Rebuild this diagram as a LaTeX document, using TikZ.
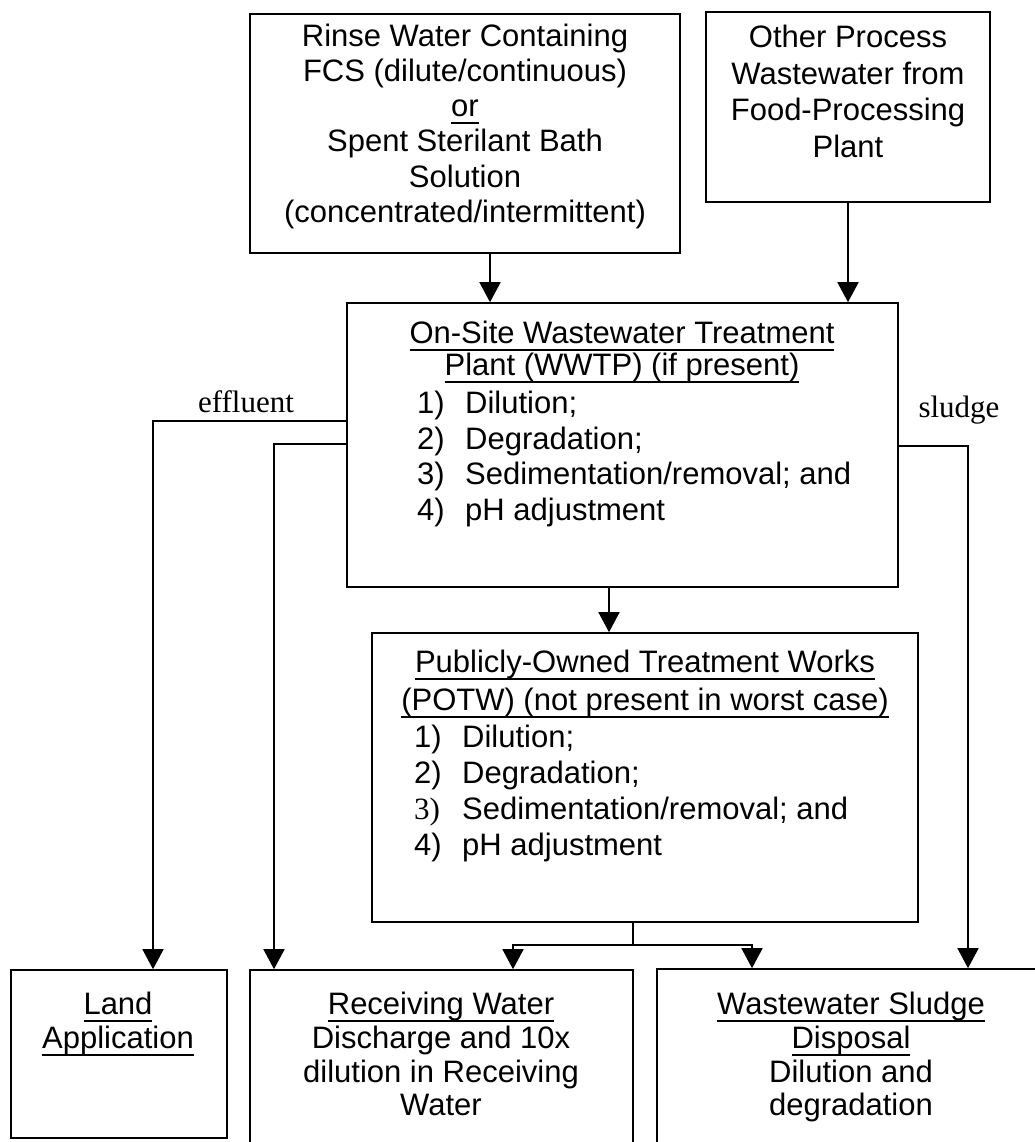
\documentclass[tikz,border=0pt]{standalone}
\usepackage{fontspec}
\setmainfont{Liberation Sans}
\newfontfamily\lserif{Liberation Serif}
\usetikzlibrary{arrows.meta}
\newsavebox\ulbox
\newcommand\myul[1]{\sbox\ulbox{#1}\rlap{\rule[-7.5pt]{\wd\ulbox}{2pt}}\usebox\ulbox}
\begin{document}
\begin{tikzpicture}[x=1pt,y=-1pt,
  box/.style={draw, line width=1.6pt, inner sep=0pt},
  txt/.style={inner sep=0pt, anchor=base, font=\fontsize{31}{35}\selectfont},
  itm/.style={inner sep=0pt, anchor=base west, font=\fontsize{31}{35}\selectfont},
  lab/.style={inner sep=0pt, anchor=base, font=\lserif\fontsize{31}{35}\selectfont},
  arr/.style={line width=1.6pt, -{Triangle[width=21pt,length=20pt]}},
  ln/.style={line width=1.6pt}]
\useasboundingbox (0,0) rectangle (1035,1142);
\clip (0,0) rectangle (1035,1142);
\fill[white] (0,0) rectangle (1035,1142);

% boxes
\node[box, minimum width=430pt, minimum height=239pt] (rinse) at (465,133.5) {};
\node[box, minimum width=284pt, minimum height=190pt] (other) at (848,107) {};
\node[box, minimum width=551pt, minimum height=284pt] (wwtp) at (622.5,445) {};
\node[box, minimum width=546pt, minimum height=289pt] (potw) at (645,777.5) {};
\node[box, minimum width=216pt, minimum height=168pt] (land) at (119,1054) {};
\node[box, minimum width=383pt, minimum height=200pt] (recv) at (441.5,1070) {};
\node[box, minimum width=393pt, minimum height=201pt] (sludge) at (853.5,1069.5) {};

% rinse text
\node[txt] (r1) at (465,47) {Rinse Water Containing};
\node[txt] (r2) at (465,82) {FCS (dilute/continuous)};
\node[txt] (r3) at (465,117) {\myul{or}};
\node[txt] (r4) at (465,152) {Spent Sterilant Bath};
\node[txt] (r5) at (465,187) {Solution};
\node[txt] (r6) at (465,222) {(concentrated/intermittent)};

% other text
\node[txt] (o1) at (848,48) {Other Process};
\node[txt] (o2) at (848,85) {Wastewater from};
\node[txt] (o3) at (848,121) {Food-Processing};
\node[txt] (o4) at (848,158) {Plant};

% wwtp text
\node[txt] (w1) at (622,343) {\myul{On-Site Wastewater Treatment}};
\node[txt] (w2) at (622,375) {\myul{Plant (WWTP) (if present)}};
\node[itm] (w3) at (417,413) {\makebox[48pt][l]{1)}Dilution;};
\node[itm] (w4) at (417,449) {\makebox[48pt][l]{2)}Degradation;};
\node[itm] (w5) at (417,484) {\makebox[48pt][l]{3)}Sedimentation/removal; and};
\node[itm] (w6) at (417,520) {\makebox[48pt][l]{4)}pH adjustment};

% potw text
\node[txt] (p1) at (645,672) {\myul{Publicly-Owned Treatment Works}};
\node[txt] (p2) at (645,710) {\myul{(POTW) (not present in worst case)}};
\node[itm] (p3) at (414,747) {\makebox[48pt][l]{1)}Dilution;};
\node[itm] (p4) at (414,783) {\makebox[48pt][l]{2)}Degradation;};
\node[itm] (p5) at (414,819) {\makebox[48pt][l]{\lserif 3)}Sedimentation/removal; and};
\node[itm] (p6) at (414,855) {\makebox[48pt][l]{4)}pH adjustment};

% bottom texts
\node[txt] (l1) at (118,1014) {\myul{Land}};
\node[txt] (l2) at (118,1048) {\myul{Application}};
\node[txt] (v1) at (441,1014) {\myul{Receiving Water}};
\node[txt] (v2) at (441,1048) {Discharge and 10x};
\node[txt] (v3) at (441,1082) {dilution in Receiving};
\node[txt] (v4) at (441,1115) {Water};
\node[txt] (s1) at (851,1014) {\myul{Wastewater Sludge}};
\node[txt] (s2) at (851,1048) {\myul{Disposal}};
\node[txt] (s3) at (851,1082) {Dilution and};
\node[txt] (s4) at (851,1115) {degradation};

% labels
\node[lab] (effl) at (246,412) {effluent};
\node[lab] (sldg) at (959,417) {sludge};

% connectors
\coordinate (ra) at (490,0);
\coordinate (oa) at (848,0);
\coordinate (e1) at (153,421);
\coordinate (e2) at (274,444);
\coordinate (sc) at (968,446);
\coordinate (wp) at (609,0);
\coordinate (pj) at (633,945);
\coordinate (rb) at (513,0);
\coordinate (sb) at (752,0);

\draw[arr] (rinse.south -| ra) -- (wwtp.north -| ra);
\draw[arr] (other.south -| oa) -- (wwtp.north -| oa);
\draw[arr] (wwtp.west |- e1) -| (land.north -| e1);
\draw[arr] (wwtp.west |- e2) -| (recv.north -| e2);
\draw[arr] (wwtp.east |- sc) -| (sludge.north -| sc);
\draw[arr] (wwtp.south -| wp) -- (potw.north -| wp);
\draw[ln] (potw.south -| pj) -- (pj);
\draw[arr] (pj) -| (recv.north -| rb);
\draw[arr] (pj) -| (sludge.north -| sb);
\end{tikzpicture}
\end{document}
